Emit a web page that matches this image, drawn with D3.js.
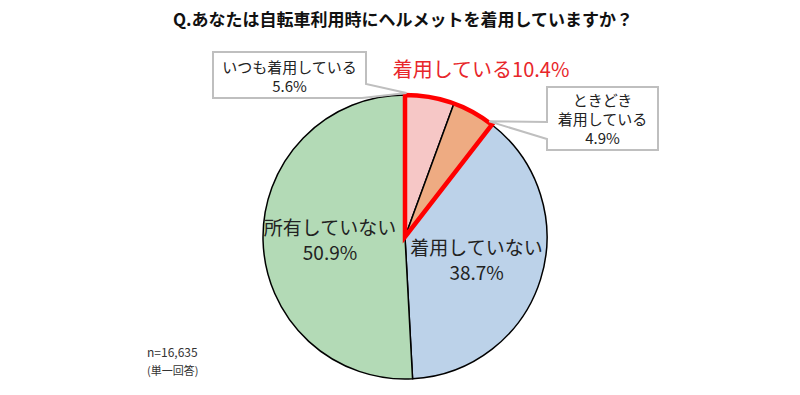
<!DOCTYPE html>
<html>
<head>
<meta charset="utf-8">
<script src="https://cdn.jsdelivr.net/npm/d3@7"></script>
<style>
  body { margin: 0; background: #fff; }
  svg text { font-family: "Noto Sans CJK JP", "Noto Sans", sans-serif; fill: #333; }
</style>
</head>
<body>
<div id="chart"></div>
<script>
var title = "Q.あなたは自転車利用時にヘルメットを着用していますか？";
var categories = ["いつも着用している", "ときどき着用している", "着用していない", "所有していない"];
var values = [5.6, 4.9, 38.7, 50.9];
var colors = ["#F6C7C6", "#EEAB82", "#BCD2E9", "#B3DAB6"];
var groupLabel = "着用している10.4%";
var note = ["n=16,635", "(単一回答)"];

var width = 800, height = 395;
var cx = 405, cy = 237, r = 142;

var svg = d3.select("#chart").append("svg")
    .attr("width", width)
    .attr("height", height);

svg.append("text")
    .attr("x", 403).attr("y", 26)
    .attr("text-anchor", "middle")
    .style("font-size", "17px")
    .style("font-weight", "bold")
    .style("fill", "#111")
    .text(title);

var data = categories.map(function(c, i) { return {name: c, value: values[i], color: colors[i]}; });

var pie = d3.pie().sort(null).value(function(d) { return d.value; });
var arcs = pie(data);
var arc = d3.arc().innerRadius(0).outerRadius(r);
var labelArc = d3.arc().innerRadius(75).outerRadius(75);

var g = svg.append("g").attr("transform", "translate(" + cx + "," + cy + ")");

g.selectAll("path.slice")
  .data(arcs)
  .enter().append("path")
    .attr("class", "slice")
    .attr("d", arc)
    .attr("fill", function(d) { return d.data.color; })
    .attr("stroke", "#000")
    .attr("stroke-width", 1.5);

// red outline around the "wearing" group
var grp = {startAngle: arcs[0].startAngle, endAngle: arcs[1].endAngle};
g.append("path")
    .attr("d", arc(grp))
    .attr("fill", "none")
    .attr("stroke", "#FF0000")
    .attr("stroke-width", 4.5)
    .attr("stroke-linejoin", "miter");

// inside labels
var inside = [
  {i: 3, lines: ["所有していない", "50.9%"]},
  {i: 2, lines: ["着用していない", "38.7%"]}
];
inside.forEach(function(o) {
  var c = labelArc.centroid(arcs[o.i]);
  var t = g.append("text")
      .attr("text-anchor", "middle")
      .style("font-size", "19px")
      .style("fill", "#222");
  o.lines.forEach(function(l, k) {
    t.append("tspan").attr("x", c[0]).attr("y", c[1] - 4 + k * 25).text(l);
  });
});

// point on the rim at a given angle
function rim(a, rr) { return [cx + rr * Math.sin(a), cy - rr * Math.cos(a)]; }

// callout boxes
function callout(box, tip, wedge, lines, lineH, fs) {
  var x0 = box[0], y0 = box[1], x1 = box[2], y1 = box[3];
  var p;
  if (wedge.side === "br") {
    p = [[x0, y0], [x1, y0], [x1, wedge.a], tip, [wedge.b, y1], [x0, y1]];
  } else {
    p = [[x0, y0], [x1, y0], [x1, y1], [x0, y1], [x0, wedge.b], tip, [x0, wedge.a]];
  }
  svg.append("path")
      .attr("d", d3.line()(p) + "Z")
      .attr("fill", "#fff")
      .attr("stroke", "#BFBFBF")
      .attr("stroke-width", 2);
  var mx = (x0 + x1) / 2;
  var t = svg.append("text").attr("text-anchor", "middle").style("font-size", fs + "px").style("fill", "#222");
  lines.forEach(function(l, k) {
    t.append("tspan").attr("x", mx).attr("y", wedge.ty + k * lineH).text(l);
  });
}

var tip1 = rim(arcs[0].startAngle + 0.01, r + 2);
callout([213, 52, 366, 98], tip1, {side: "br", a: 84, b: 362, ty: 73}, ["いつも着用している", "5.6%"], 19, 15);

var tip2 = rim(arcs[1].endAngle - 0.03, r + 1);
callout([547, 87, 658, 150], tip2, {side: "l", a: 122, b: 139, ty: 106}, ["ときどき", "着用している", "4.9%"], 19, 15);

// group label
svg.append("text")
    .attr("x", 481).attr("y", 77)
    .attr("text-anchor", "middle")
    .style("font-size", "20px")
    .style("fill", "#E8262A")
    .text(groupLabel);

// note
svg.append("text").attr("x", 147).attr("y", 357)
    .style("font-size", "12px").style("fill", "#333").text(note[0]);
svg.append("text").attr("x", 147).attr("y", 375)
    .style("font-size", "11px").style("fill", "#333").text(note[1]);
</script>
</body>
</html>
